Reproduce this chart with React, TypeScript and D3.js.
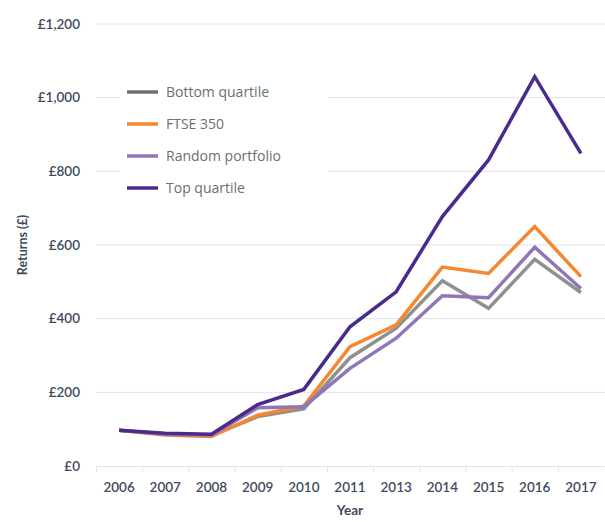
import { useEffect, useRef } from "react";
import * as d3 from "d3";

// Years on the x axis (2012 is not in the source chart)
const years = ["2006", "2007", "2008", "2009", "2010", "2011", "2013", "2014", "2015", "2016", "2017"];

// Returns in £ for each series
const bottomQuartile = [97, 86, 83, 134, 155, 294, 374, 503, 428, 561, 471];
const ftse350 = [97, 84, 80, 138, 163, 324, 383, 540, 523, 650, 514];
const randomPortfolio = [97, 86, 84, 158, 161, 265, 347, 462, 457, 594, 482];
const topQuartile = [97, 89, 86, 167, 208, 378, 473, 677, 831, 1057, 849];

const yTicks = [0, 200, 400, 600, 800, 1000, 1200];

const seriesNames = ["Bottom quartile", "FTSE 350", "Random portfolio", "Top quartile"];
const seriesValues = [bottomQuartile, ftse350, randomPortfolio, topQuartile];
const seriesColors = ["#8d918f", "#f6862f", "#8e76b8", "#4a2a8c"];
const legendColors = ["#6e7174", "#f6862f", "#8e76b8", "#4a2a8c"];

const W = 605;
const H = 522;
const FONT = "Lato, 'Noto Sans', sans-serif";
const LEGEND_FONT = "'Open Sans', 'Noto Sans', sans-serif";

export default function App() {
  const svgRef = useRef<SVGSVGElement>(null);

  useEffect(() => {
    if (!svgRef.current) return;
    const svg = d3.select(svgRef.current);
    svg.html("");

    const left = 96, right = 604, top = 24, bottom = 466;

    const x = d3.scaleBand().domain(years).range([left, right]).padding(0);
    const y = d3.scaleLinear().domain([0, 1200]).range([bottom, top]);

    // Gridlines
    svg.append("g")
      .selectAll("line")
      .data(yTicks.filter(d => d > 0))
      .join("line")
      .attr("x1", left)
      .attr("x2", W)
      .attr("y1", d => y(d))
      .attr("y2", d => y(d))
      .attr("stroke", "#dce4ea")
      .attr("stroke-width", 1);

    // Y tick labels
    svg.append("g")
      .selectAll("text")
      .data(yTicks)
      .join("text")
      .attr("x", 80)
      .attr("y", d => y(d))
      .attr("dy", "0.35em")
      .attr("text-anchor", "end")
      .attr("font-family", FONT)
      .attr("font-size", 13.5)
      .attr("font-weight", 600)
      .attr("fill", "#3e4a5c")
      .text(d => "£" + d3.format(",")(d));

    // X axis
    const xAxis = svg.append("g")
      .attr("transform", `translate(0,${bottom})`)
      .call(d3.axisBottom(x).tickSize(0).tickPadding(16));
    xAxis.select(".domain").attr("stroke", "#dce4ea");
    xAxis.selectAll("text")
      .attr("font-family", FONT)
      .attr("font-size", 13.5)
      .attr("font-weight", 600)
      .attr("fill", "#3e4a5c");

    // Tick separators between bands
    svg.append("g")
      .selectAll("line")
      .data(years)
      .join("line")
      .attr("x1", d => (x(d) as number) + 0.5)
      .attr("x2", d => (x(d) as number) + 0.5)
      .attr("y1", bottom)
      .attr("y2", bottom + 6)
      .attr("stroke", "#dce4ea");

    // Axis titles
    svg.append("text")
      .attr("x", x("2011")! + x.bandwidth() / 2)
      .attr("y", 515)
      .attr("text-anchor", "middle")
      .attr("font-family", FONT)
      .attr("font-size", 13.5)
      .attr("font-weight", 700)
      .attr("fill", "#3e4a5c")
      .text("Year");

    svg.append("text")
      .attr("transform", `translate(27,${y(600)}) rotate(-90)`)
      .attr("text-anchor", "middle")
      .attr("font-family", FONT)
      .attr("font-size", 12.5)
      .attr("font-weight", 700)
      .attr("fill", "#3e4a5c")
      .text("Returns (£)");

    // Legend background hides the gridlines behind it
    svg.append("rect")
      .attr("x", 120)
      .attr("y", 76)
      .attr("width", 208)
      .attr("height", 128)
      .attr("fill", "#ffffff");

    // Lines
    const line = d3.line<number>()
      .x((d, i) => (x(years[i]) as number) + x.bandwidth() / 2)
      .y(d => y(d));

    seriesValues.forEach((vals, i) => {
      svg.append("path")
        .datum(vals)
        .attr("fill", "none")
        .attr("stroke", seriesColors[i])
        .attr("stroke-width", 3.5)
        .attr("stroke-linejoin", "miter")
        .attr("d", line);
    });

    // Legend
    const legend = svg.append("g");
    seriesNames.forEach((name, i) => {
      const ly = 92 + i * 32;
      legend.append("line")
        .attr("x1", 127)
        .attr("x2", 158)
        .attr("y1", ly)
        .attr("y2", ly)
        .attr("stroke", legendColors[i])
        .attr("stroke-width", 3.5);
      legend.append("text")
        .attr("x", 166)
        .attr("y", ly)
        .attr("dy", "0.35em")
        .attr("font-family", LEGEND_FONT)
        .attr("font-size", 14)
        .attr("fill", "#6b6e72")
        .text(name);
    });
  }, []);

  return (
    <svg
      ref={svgRef}
      width={W}
      height={H}
      style={{ position: "absolute", left: 0, top: 0, background: "#fff" }}
    />
  );
}
